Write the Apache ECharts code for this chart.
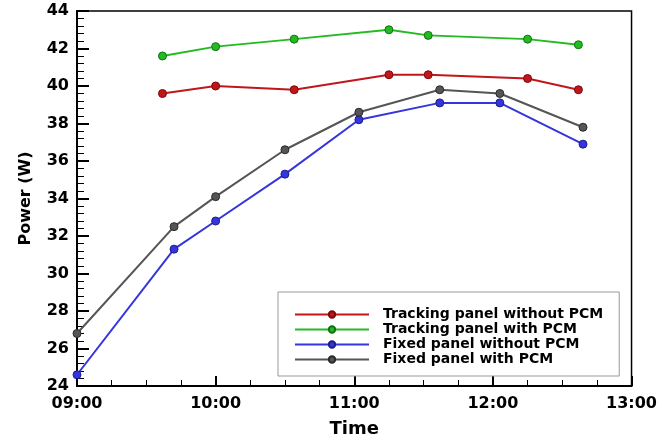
<!DOCTYPE html>
<html>
<head>
<meta charset="utf-8">
<script src="https://cdn.jsdelivr.net/npm/echarts@6/dist/echarts.min.js"></script>
<style>
html,body{margin:0;padding:0;background:#fff;}
#main{width:660px;height:443px;}
</style>
</head>
<body>
<div id="main"></div>
<script>
// series names
var names = ['Tracking panel without PCM', 'Tracking panel with PCM', 'Fixed panel without PCM', 'Fixed panel with PCM'];

// sample times (tracking panels) and values
var trackTimes = ['09:37', '10:00', '10:34', '11:15', '11:32', '12:15', '12:37'];
var trackNoPcm = [39.6, 40.0, 39.8, 40.6, 40.6, 40.4, 39.8];
var trackPcm = [41.6, 42.1, 42.5, 43.0, 42.7, 42.5, 42.2];

// sample times (fixed panels) and values
var fixedTimes = ['09:00', '09:42', '10:00', '10:30', '11:02', '11:37', '12:03', '12:39'];
var fixedNoPcm = [24.6, 31.3, 32.8, 35.3, 38.2, 39.1, 39.1, 36.9];
var fixedPcm = [26.8, 32.5, 34.1, 36.6, 38.6, 39.8, 39.6, 37.8];

var colors = ['#c0161c', '#22bb22', '#3535dd', '#555555'];
var borders = ['#7a0a0a', '#137013', '#1c1c8a', '#2a2a2a'];

function toHours(s){
	var p = s.split(':');
	return parseInt(p[0], 10) + parseInt(p[1], 10) / 60;
}
function pairs(times, vals){
	var res = [];
	for (var i = 0; i < vals.length; i++) {
		res.push([toHours(times[i]), vals[i]]);
	}
	return res;
}
function fmtTime(v){
	var h = Math.floor(v + 1e-6);
	var m = Math.round((v - h) * 60);
	return (h < 10 ? '0' : '') + h + ':' + (m < 10 ? '0' : '') + m;
}

var seriesData = [
	pairs(trackTimes, trackNoPcm),
	pairs(trackTimes, trackPcm),
	pairs(fixedTimes, fixedNoPcm),
	pairs(fixedTimes, fixedPcm)
];

var series = [];
for (var i = 0; i < names.length; i++) {
	series.push({
		name: names[i],
		type: 'line',
		data: seriesData[i],
		symbol: 'circle',
		symbolSize: 8,
		lineStyle: {color: colors[i], width: 2},
		itemStyle: {color: colors[i], borderColor: borders[i], borderWidth: 1},
		emphasis: {disabled: true}
	});
}

var chart = echarts.init(document.getElementById('main'));
var option = {
	animation: false,
	backgroundColor: '#fff',
	textStyle: {fontFamily: 'DejaVu Sans'},
	grid: {
		left: 77, right: 24, top: 11, bottom: 51,
		show: true, borderColor: '#000', borderWidth: 1.5
	},
	legend: {
		orient: 'vertical',
		left: 278,
		top: 292,
		padding: [15, 16, 9, 16],
		itemWidth: 74,
		itemHeight: 8,
		itemGap: 0,
		backgroundColor: '#fff',
		borderColor: '#999',
		borderWidth: 1,
		borderRadius: 0,
		textStyle: {
			fontFamily: 'DejaVu Sans',
			fontWeight: 'bold',
			fontSize: 14,
			lineHeight: 15,
			color: '#000',
			padding: [0, 0, 0, 9]
		},
		data: names
	},
	xAxis: {
		type: 'value',
		min: 9,
		max: 13,
		interval: 1,
		name: 'Time',
		nameLocation: 'middle',
		nameGap: 34,
		nameTextStyle: {fontFamily: 'DejaVu Sans', fontWeight: 'bold', fontSize: 18, color: '#000'},
		axisLine: {lineStyle: {color: '#000', width: 2}},
		axisTick: {inside: true, length: 10, lineStyle: {color: '#000', width: 2}},
		minorTick: {show: true, splitNumber: 4, length: 6, lineStyle: {color: '#000', width: 1}},
		splitLine: {show: false},
		axisLabel: {
			margin: 10,
			fontFamily: 'DejaVu Sans',
			fontWeight: 'bold',
			fontSize: 16,
			color: '#000',
			formatter: fmtTime
		}
	},
	yAxis: {
		type: 'value',
		min: 24,
		max: 44,
		interval: 2,
		name: 'Power (W)',
		nameLocation: 'middle',
		nameGap: 43,
		nameTextStyle: {fontFamily: 'DejaVu Sans', fontWeight: 'bold', fontSize: 16, color: '#000'},
		axisLine: {lineStyle: {color: '#000', width: 2}},
		axisTick: {inside: true, length: 12, lineStyle: {color: '#000', width: 2}},
		minorTick: {show: true, splitNumber: 5, length: 7, lineStyle: {color: '#000', width: 1}},
		splitLine: {show: false},
		axisLabel: {
			margin: 8,
			fontFamily: 'DejaVu Sans',
			fontWeight: 'bold',
			fontSize: 16,
			color: '#000'
		}
	},
	series: series
};
chart.setOption(option);
</script>
</body>
</html>
